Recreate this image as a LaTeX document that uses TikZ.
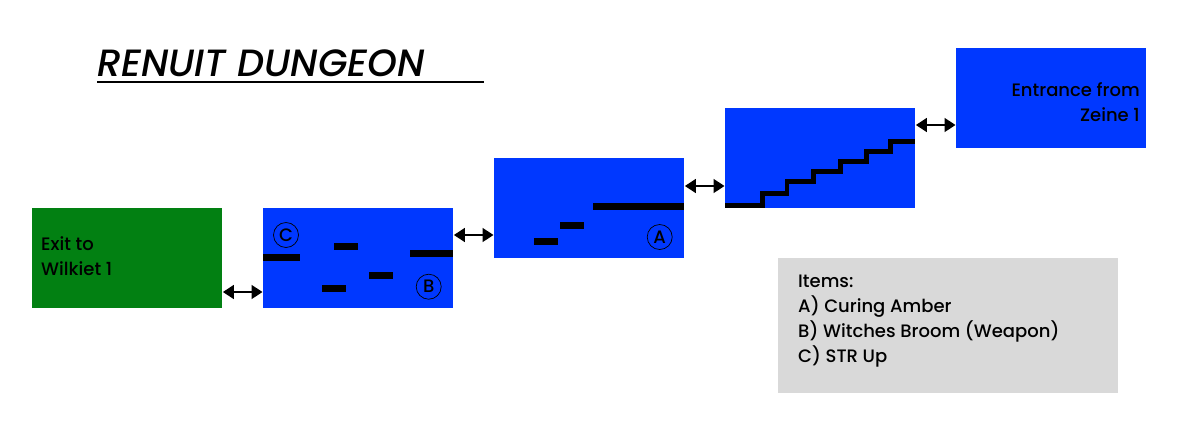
\documentclass[tikz,border=0pt]{standalone}
\usepackage{fontspec}
\setmainfont{Poppins Medium}[ItalicFont={Poppins Medium Italic}]
\usetikzlibrary{arrows.meta}
\definecolor{roomblue}{RGB}{0,56,255}
\definecolor{roomgreen}{RGB}{2,128,18}
\definecolor{panelgray}{RGB}{217,217,217}
\tikzset{
  x=1pt,y=-1pt,
  room/.style={fill=#1,draw=none,minimum width=190pt,minimum height=100pt,inner sep=0pt,anchor=north west},
  bar/.style={fill=black,draw=none},
  link/.style={{Triangle[length=11pt,width=14pt]}-{Triangle[length=11pt,width=14pt]},line width=1.6pt,shorten <=0.5pt,shorten >=0.5pt},
  badge/.style={circle,draw=black,line width=0.7pt,minimum size=25pt,inner sep=0pt,font=\fontsize{18}{18}\selectfont},
  txt/.style={font=\fontsize{18}{25}\selectfont}
}
\begin{document}
\begin{tikzpicture}
\useasboundingbox (0,0) rectangle (1196,424);
\fill[white] (0,0) rectangle (1196,424);
\node[room=roomgreen,txt,align=left,text width=172pt,text height=0pt] (r1) at (32,208) {};
\node[room=roomblue] (r2) at (263,208) {};
\node[room=roomblue] (r3) at (494,158) {};
\node[room=roomblue] (r4) at (725,108) {};
\node[room=roomblue] (r5) at (956,48) {};
\node[fill=panelgray,minimum width=340pt,minimum height=135pt,anchor=north west,inner sep=0pt] (items) at (778,258) {};
% room texts
\node[txt,align=left,anchor=west,inner sep=0pt] (t1) at (41,256) {Exit to\\Wilkiet 1};
\node[txt,align=right,anchor=east,inner sep=0pt] (t5) at (1140,102) {Entrance from\\Zeine 1};
\node[txt,align=left,anchor=west,inner sep=0pt] (t6) at (798,321) {Items:\\A) Curing Amber\\B) Witches Broom (Weapon)\\C) STR Up};
\node[anchor=base west,inner sep=0pt,font=\fontsize{38}{38}\selectfont\itshape] (title) at (97,76) {RENUIT DUNGEON};
\draw[line width=2pt] (97,82) -- (484,82);
% bars
\fill[bar] (263,254) rectangle (300,261);
\fill[bar] (334,243) rectangle (358,250);
\fill[bar] (410,250) rectangle (453,257);
\fill[bar] (369,272) rectangle (393,279);
\fill[bar] (322,285) rectangle (346,292);
\fill[bar] (593,203) rectangle (684,210);
\fill[bar] (560,222) rectangle (584,229);
\fill[bar] (534,238) rectangle (558,245);
\draw[line width=4.6pt,miter limit=10] (725,205.5) -- (762.7,205.5) -- (762.7,193.3) -- (787,193.3) -- (787,181.3) -- (813.3,181.3) -- (813.3,171.3) -- (840.7,171.3) -- (840.7,161.3) -- (866.3,161.3) -- (866.3,151.3) -- (890.7,151.3) -- (890.7,141.3) -- (915,141.3);
% badges
\node[badge] (bc) at (286,235) {C};
\node[badge] (bb) at (428.7,286.7) {B};
\node[badge] (ba) at (659.7,237) {A};
% links
\draw[link] (r1.east |- 0,292) -- (r2.west |- 0,292);
\draw[link] (r2.east |- 0,235) -- (r3.west |- 0,235);
\draw[link] (r3.east |- 0,186) -- (r4.west |- 0,186);
\draw[link] (r4.east |- 0,125) -- (r5.west |- 0,125);
\end{tikzpicture}
\end{document}
